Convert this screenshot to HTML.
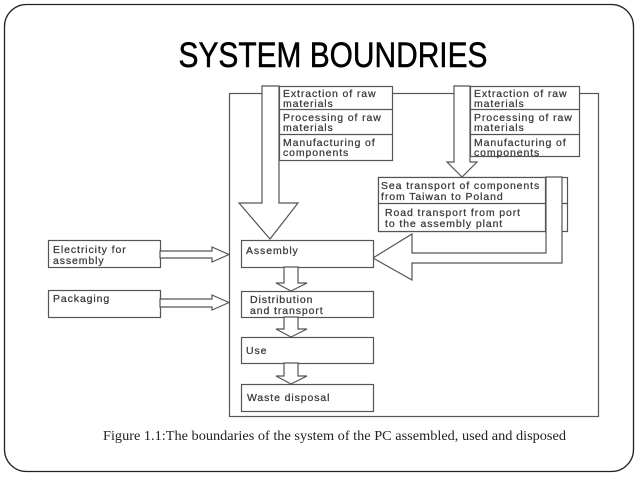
<!DOCTYPE html>
<html><head><meta charset="utf-8"><style>
html,body{margin:0;padding:0;background:#fff;}
svg{display:block;}
</style></head><body>
<svg width="638" height="479" viewBox="0 0 638 479" xmlns="http://www.w3.org/2000/svg">
<rect x="4.5" y="4.5" width="629" height="467" rx="22" fill="#fff" stroke="#222" stroke-width="1.3"/>
<text x="333" y="67" font-family="Liberation Sans, sans-serif" font-size="35" text-anchor="middle" textLength="309" lengthAdjust="spacingAndGlyphs" fill="#000" stroke="#000" stroke-width="0.5">SYSTEM BOUNDRIES</text>
<g fill="#fff" stroke="#555" stroke-width="1.2">
<rect x="229.5" y="93.5" width="369" height="323"/>
<rect x="279.5" y="86.5" width="113" height="74"/>
<line x1="279" y1="109.5" x2="392" y2="109.5"/>
<line x1="279" y1="134.5" x2="392" y2="134.5"/>
<polygon points="262,86 279,86 279,203 298,203 270,239 239,203 262,203"/>
<rect x="470.5" y="86.5" width="109" height="70"/>
<line x1="470" y1="109.5" x2="579" y2="109.5"/>
<line x1="470" y1="134.5" x2="579" y2="134.5"/>
<polygon points="454,86 470,86 470,162 477,162 462,177 447,162 454,162"/>
<rect x="378.5" y="177.5" width="189" height="54"/>
<line x1="545" y1="203.5" x2="568" y2="203.5"/>
<polygon points="546,177 562,177 562,263 412,263 412,280 373,258 412,234 412,253 546,253"/>
<rect x="378.5" y="177.5" width="167" height="54"/>
<line x1="378" y1="203.5" x2="546" y2="203.5"/>
<rect x="241.5" y="240.5" width="132" height="27"/>
<rect x="241.5" y="291.5" width="132" height="26"/>
<rect x="241.5" y="337.5" width="132" height="26"/>
<rect x="241.5" y="384.5" width="132" height="27"/>
<polygon points="284,267 298,267 298,283 307,283 291,291 276,283 284,283"/>
<polygon points="284,317 298,317 298,329 307,329 291,337 276,329 284,329"/>
<polygon points="284,363 298,363 298,376 307,376 291,384 276,376 284,376"/>
<rect x="48.5" y="240.5" width="112" height="27"/>
<rect x="48.5" y="290.5" width="112" height="27"/>
<polygon points="160,251 212,251 212,247 229,254.5 212,262 212,258 160,258"/>
<polygon points="160,299 212,299 212,295 229,302.5 212,310 212,307 160,307"/>
</g>
<g font-family="Liberation Sans, sans-serif" font-size="10.5" letter-spacing="0.9" fill="#3a3a3a" stroke="#3a3a3a" stroke-width="0.25">
<text x="283" y="97">Extraction of raw</text>
<text x="283" y="107">materials</text>
<text x="283" y="121">Processing of raw</text>
<text x="283" y="131">materials</text>
<text x="283" y="146">Manufacturing of</text>
<text x="283" y="156">components</text>
<text x="474" y="97">Extraction of raw</text>
<text x="474" y="107">materials</text>
<text x="474" y="121">Processing of raw</text>
<text x="474" y="131">materials</text>
<text x="474" y="146">Manufacturing of</text>
<text x="474" y="156">components</text>
<text x="381" y="189">Sea transport of components</text>
<text x="381" y="200">from Taiwan to Poland</text>
<text x="385" y="216">Road transport  from port</text>
<text x="385" y="227">to the assembly plant</text>
<text x="246" y="254">Assembly</text>
<text x="250" y="303">Distribution</text>
<text x="250" y="314">and transport</text>
<text x="246" y="354">Use</text>
<text x="247" y="401">Waste disposal</text>
<text x="53" y="253">Electricity for</text>
<text x="53" y="264">assembly</text>
<text x="53" y="302">Packaging</text>
</g>
<text x="103" y="440" font-family="Liberation Serif, serif" font-size="13.5" fill="#222" textLength="463" lengthAdjust="spacingAndGlyphs">Figure 1.1:The boundaries of the system of the PC assembled, used and disposed</text>
</svg>
</body></html>
